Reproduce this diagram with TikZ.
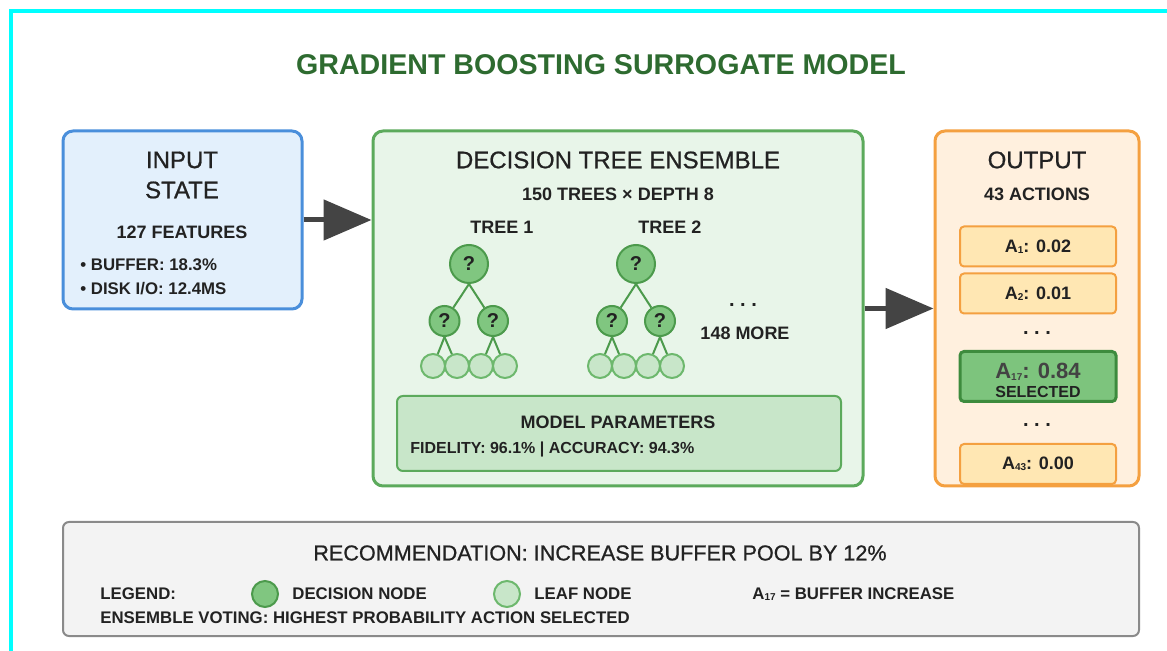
\documentclass[tikz,border=0pt]{standalone}
\usepackage{fontspec}
\setmainfont{Liberation Sans}
\newfontfamily\medfont{Liberation Sans}[FakeBold=0.8]
\usetikzlibrary{arrows.meta,positioning}
\definecolor{frame}{HTML}{00FFFF}
\definecolor{titlegreen}{HTML}{2E6B30}
\definecolor{ink}{HTML}{222222}
\definecolor{inblue}{HTML}{4A8FDB}
\definecolor{inbg}{HTML}{E3F0FC}
\definecolor{ensline}{HTML}{5CAA5C}
\definecolor{ensbg}{HTML}{E8F5E9}
\definecolor{nodeline}{HTML}{4C9A4C}
\definecolor{nodefill}{HTML}{80C680}
\definecolor{leafline}{HTML}{6DB86D}
\definecolor{leaffill}{HTML}{C8E6C9}
\definecolor{outline}{HTML}{F4A040}
\definecolor{outbg}{HTML}{FFF0DE}
\definecolor{actfill}{HTML}{FFE7B3}
\definecolor{selfill}{HTML}{7DC47D}
\definecolor{selline}{HTML}{3D8B3D}
\definecolor{recfill}{HTML}{F3F3F3}
\definecolor{recline}{HTML}{8A8A8A}
\definecolor{arrowgray}{HTML}{444444}
\newcommand{\fsz}[1]{\fontsize{#1}{#1}\selectfont}
% tiny index digits of the action names
\newcommand{\idx}[1]{\raisebox{-0.15ex}{\fsz{5}#1}}
\tikzset{
  panel/.style={rectangle,rounded corners=5pt,line width=1.5pt,inner sep=0pt},
  head/.style={inner sep=0pt,text=ink,font=\medfont\fsz{12}},
  lbl/.style={inner sep=0pt,text=ink,font=\bfseries\fsz{9}},
  small/.style={inner sep=0pt,text=ink,font=\bfseries\fsz{8.4}},
  dnode/.style={circle,draw=nodeline,fill=nodefill,line width=1pt,inner sep=0pt,text=ink,font=\bfseries\fsz{10}},
  leaf/.style={circle,draw=leafline,fill=leaffill,line width=1pt,inner sep=0pt,minimum size=12pt},
  act/.style={rectangle,rounded corners=2pt,draw=outline,fill=actfill,line width=1pt,
    minimum width=78pt,minimum height=20pt,inner sep=0pt,text=ink,font=\bfseries\fsz{9}},
  branch/.style={-,line width=1pt,draw=nodeline},
  flow/.style={-{Triangle[length=24pt,width=20pt]},line width=2.5pt,draw=arrowgray}
}

\begin{document}
\begin{tikzpicture}[x=0.5pt,y=-0.5pt]
\useasboundingbox (0,0) rectangle (1167,651);
% \draw[help lines,step=50] (0,0) grid (1167,651);
\draw[frame,line width=2pt] (11,651) -- (11,11) -- (1167,11);
\node (title) [inner sep=0pt,text=titlegreen,font=\bfseries\fsz{14.3}] at (601,65) {GRADIENT BOOSTING SURROGATE MODEL};
%
% the three panels
\node (inbox) [panel,draw=inblue,fill=inbg,minimum width=119.5pt,minimum height=89pt] at (182.5,220) {};
\node (ens) [panel,draw=ensline,fill=ensbg,minimum width=245pt,minimum height=177.5pt] at (618,308.5) {};
\node (outbox) [panel,draw=outline,fill=outbg,minimum width=102pt,minimum height=177.5pt] at (1037,308.5) {};
\node (params) [panel,rounded corners=3pt,line width=1pt,draw=ensline,fill=leaffill,minimum width=222pt,minimum height=37.5pt] at (619,433.5) {};
\node (rec) [panel,rounded corners=3pt,line width=1pt,draw=recline,fill=recfill,minimum width=538pt,minimum height=57pt] at (601,579) {};
%
\draw[flow] (inbox.east) -- (inbox.east -| ens.west);
\draw[flow] (ens.east) -- (outbox.west);
%
% input state
\node (in1) [head] at (182,160) {INPUT};
\node (in2) [head] at (182,190) {STATE};
\node (infeat) [lbl] at (182,232) {127 FEATURES};
\node (inb1) [small,anchor=west] at (80,265) {• BUFFER: 18.3\%};
\node (inb2) [small,anchor=west] at (80,289) {• DISK I/O: 12.4MS};
%
% ensemble
\node (enshead) [head] at (618,160) {DECISION TREE ENSEMBLE};
\node (enssub) [lbl] at (618,194) {150 TREES × DEPTH 8};
\node (t1lbl) [lbl] at (502,227) {TREE 1};
\node (t2lbl) [lbl] at (670,227) {TREE 2};
% tree 1
\node (t1r) [dnode,minimum size=19pt] at (469,264) {?};
\node (t1a) [dnode,minimum size=15pt] at (444.5,321) {?};
\node (t1b) [dnode,minimum size=15pt] at (493,321) {?};
\node (t1l1) [leaf] at (433,366) {};
\node (t1l2) [leaf] at (457,366) {};
\node (t1l3) [leaf] at (481,366) {};
\node (t1l4) [leaf] at (505,366) {};
% tree 2
\node (t2r) [dnode,minimum size=19pt] at (636,264) {?};
\node (t2a) [dnode,minimum size=15pt] at (612,321) {?};
\node (t2b) [dnode,minimum size=15pt] at (660,321) {?};
\node (t2l1) [leaf] at (600,366) {};
\node (t2l2) [leaf] at (624,366) {};
\node (t2l3) [leaf] at (648,366) {};
\node (t2l4) [leaf] at (672,366) {};
%
\path[branch] (t1r.south) edge (t1a);
\path[branch] (t1r.south) edge (t1b);
\path[branch] (t1a.south) edge (t1l1);
\path[branch] (t1a.south) edge (t1l2);
\path[branch] (t1b.south) edge (t1l3);
\path[branch] (t1b.south) edge (t1l4);
\path[branch] (t2r.south) edge (t2a);
\path[branch] (t2r.south) edge (t2b);
\path[branch] (t2a.south) edge (t2l1);
\path[branch] (t2a.south) edge (t2l2);
\path[branch] (t2b.south) edge (t2l3);
\path[branch] (t2b.south) edge (t2l4);
%
\node (moredots) [lbl,font=\bfseries\fsz{10}] at (743,305) {.\ .\ .};
\node (more) [lbl] at (745,333) {148 MORE};
\node (parhead) [lbl] at (618,422) {MODEL PARAMETERS};
\node (parval) [small,font=\bfseries\fsz{8},anchor=west] at (410,449) {FIDELITY: 96.1\% | ACCURACY: 94.3\%};
%
% output actions
\node (outhead) [head] at (1037,160) {OUTPUT};
\node (outsub) [lbl] at (1037,194) {43 ACTIONS};
\node (a1) [act] at (1038,246.5) {A\idx{1}: 0.02};
\node (a2) [act] at (1038,293.5) {A\idx{2}: 0.01};
\node (dots1) [lbl,font=\bfseries\fsz{10}] at (1037,333) {.\ .\ .};
\node (a17) [act,draw=selline,fill=selfill,line width=1.5pt,minimum height=25pt] at (1038,376.5) {};
\node (a17val) [inner sep=0pt,text=ink!85,font=\bfseries\fsz{11}] at (1038,372) {A\idx{17}: 0.84};
\node (a17sel) [small,font=\bfseries\fsz{8}] at (1038,392) {SELECTED};
\node (dots2) [lbl,font=\bfseries\fsz{10}] at (1037,425) {.\ .\ .};
\node (a43) [act] at (1038,464) {A\idx{43}: 0.00};
%
% recommendation and legend
\node (rectext) [inner sep=0pt,text=ink,font=\medfont\fsz{10.8}] at (600,553) {RECOMMENDATION: INCREASE BUFFER POOL BY 12\%};
\node (legend) [small,anchor=west] at (100,594) {LEGEND:};
\node (legd) [dnode,minimum size=13pt] at (265,594) {};
\node (legdtxt) [small,anchor=west] at (292,594) {DECISION NODE};
\node (legl) [leaf,minimum size=13pt] at (507,594) {};
\node (legltxt) [small,anchor=west] at (534,594) {LEAF NODE};
\node (legact) [small,anchor=west] at (752,594) {A\idx{17} = BUFFER INCREASE};
\node (vote) [small,anchor=west] at (100,618) {ENSEMBLE VOTING: HIGHEST PROBABILITY ACTION SELECTED};
\end{tikzpicture}
\end{document}
